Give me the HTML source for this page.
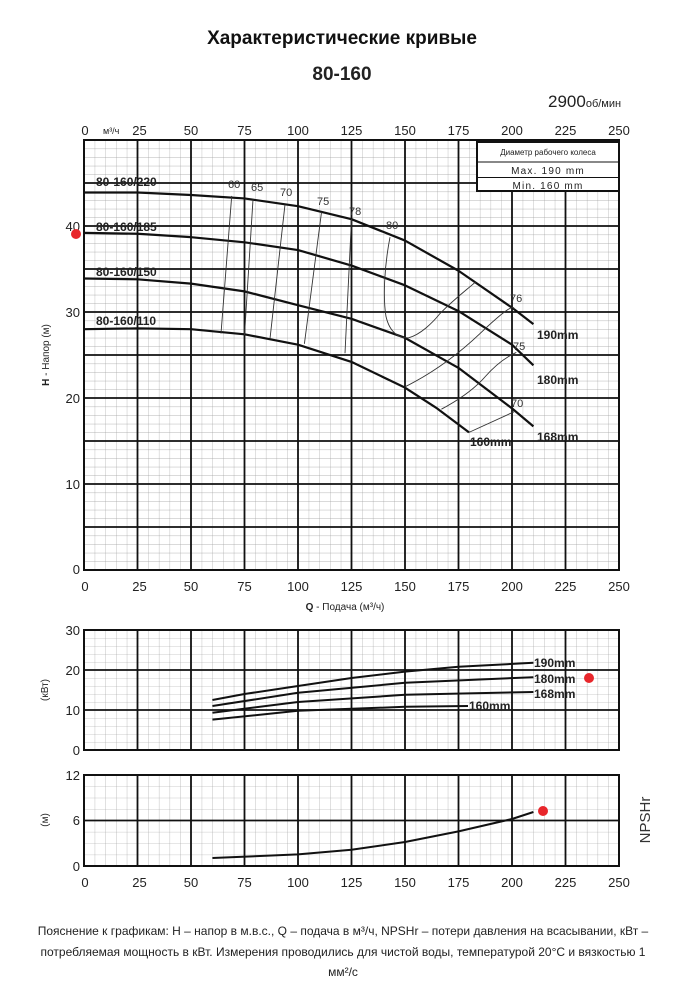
<!DOCTYPE html>
<html><head><meta charset="utf-8"><style>
html,body{margin:0;padding:0;background:#fff;}
svg{display:block;font-family:"Liberation Sans","DejaVu Sans",sans-serif;}
</style></head><body>
<svg width="685" height="1000" viewBox="0 0 685 1000" xmlns="http://www.w3.org/2000/svg">
<defs>
<pattern id="g1" x="84" y="140" width="10.7" height="8.6" patternUnits="userSpaceOnUse"><path d="M0 0V8.6M0 0H10.7" stroke="#999" stroke-width="0.6" fill="none"/></pattern>
<pattern id="g2" x="84" y="630" width="10.7" height="8" patternUnits="userSpaceOnUse"><path d="M0 0V8M0 0H10.7" stroke="#999" stroke-width="0.6" fill="none"/></pattern>
<pattern id="g3" x="84" y="775" width="10.7" height="11.375" patternUnits="userSpaceOnUse"><path d="M0 0V11.375M0 0H10.7" stroke="#999" stroke-width="0.6" fill="none"/></pattern>
</defs>
<text x="342" y="44" font-size="19" font-weight="bold" text-anchor="middle" fill="#111">Характеристические кривые</text>
<text x="342" y="80" font-size="19" font-weight="bold" text-anchor="middle" fill="#222">80-160</text>
<text x="548" y="107" font-size="17" fill="#222">2900<tspan font-size="11">об/мин</tspan></text>

<!-- top axis labels -->
<g font-size="13" fill="#222" text-anchor="middle">
<text x="85" y="135">0</text><text x="139.5" y="135">25</text><text x="191" y="135">50</text><text x="244.5" y="135">75</text><text x="298" y="135">100</text><text x="351.5" y="135">125</text><text x="405" y="135">150</text><text x="458.5" y="135">175</text><text x="512" y="135">200</text><text x="565.5" y="135">225</text><text x="619" y="135">250</text>
</g>
<text x="103" y="134" font-size="9" fill="#222">м³/ч</text>

<!-- top chart -->
<rect x="84" y="140" width="535" height="430" fill="url(#g1)"/>
<g stroke="#111" stroke-width="1.8" fill="none">
<path d="M137.5 140V570M191 140V570M244.5 140V570M298 140V570M351.5 140V570M405 140V570M458.5 140V570M512 140V570M565.5 140V570"/>
<path d="M84 183H619M84 226H619M84 269H619M84 312H619M84 355H619M84 398H619M84 441H619M84 484H619M84 527H619"/>
<rect x="84" y="140" width="535" height="430" stroke-width="2"/>
</g>
<g font-size="13" fill="#222" text-anchor="end">
<text x="80" y="574">0</text><text x="80" y="489">10</text><text x="80" y="403">20</text><text x="80" y="317">30</text><text x="80" y="231">40</text>
</g>
<text transform="translate(49,355) rotate(-90)" font-size="10" fill="#222" text-anchor="middle"><tspan font-weight="bold">H</tspan> - Напор (м)</text>
<circle cx="76" cy="234" r="5" fill="#e8262b"/>
<!-- legend box -->
<rect x="477" y="142" width="142" height="49" fill="#fff" stroke="#111" stroke-width="2"/>
<path d="M477 162H619M477 177.5H619" stroke="#111" stroke-width="1"/>
<text x="548" y="155" font-size="8" text-anchor="middle" fill="#222">Диаметр рабочего колеса</text>
<text x="548" y="174" font-size="10" text-anchor="middle" fill="#222" letter-spacing="1.2">Max. 190 mm</text>
<text x="548" y="189" font-size="10" text-anchor="middle" fill="#222" letter-spacing="1.2">Min. 160 mm</text>

<g transform="translate(0,570) scale(1,1.00585) translate(0,-570)">
<g stroke="#111" stroke-width="2.2" fill="none" stroke-linejoin="round">
<polyline points="84,194.7 137.5,194.7 191,197.2 244.5,200.6 298,208.3 351.5,221.2 405,242.5 458.5,272.5 512,309.2 533.4,325.5"/>
<polyline points="84,234.8 137.5,235.7 191,239.1 244.5,244.2 298,251.9 351.5,267.3 405,287 458.5,312.6 512,346 533.4,366.5"/>
<polyline points="84,280.2 137.5,281 191,285.3 244.5,293 298,306.7 351.5,320.3 405,339.2 458.5,369.1 512,409.3 533.4,427.2"/>
<polyline points="84,330.6 137.5,329.8 191,330.6 244.5,335.7 298,346 351.5,363.1 405,388.7 437,409.3 469,433.2"/>
</g>
<g stroke="#333" stroke-width="0.9" fill="none">
<path d="M231.7 198.1L221 334.9M253 201.5L244.5 336.6M285 206.6L270 340M321.5 214.3L304.4 345.1M351.5 221.2L345 354.5"/>
<path d="M390 239.1C384 270 383 300 386 318C390 335 400 340 409 339C420 336 432 325 440 315C455 300 466 292 475.6 283.6"/>
<path d="M405 387.9Q445 368 480 334.9T514 311"/>
<path d="M441.4 410.1Q470 395 485 378T516.3 353.7"/>
<path d="M469 433.2L514 412.7"/>
</g>
</g>
<g font-size="11" fill="#333">
<text x="228" y="188">60</text><text x="251" y="191">65</text><text x="280" y="196">70</text><text x="317" y="205">75</text><text x="349" y="215">78</text><text x="386" y="229">80</text>
<text x="510" y="302">76</text><text x="513" y="350">75</text><text x="511" y="407">70</text>
</g>
<g font-size="12" font-weight="bold" fill="#222">
<text x="96" y="186">80-160/220</text><text x="96" y="231">80-160/185</text><text x="96" y="276">80-160/150</text><text x="96" y="325">80-160/110</text>
<text x="537" y="339">190mm</text><text x="537" y="384">180mm</text><text x="537" y="441">168mm</text><text x="470" y="446">160mm</text>
</g>
<g font-size="13" fill="#222" text-anchor="middle">
<text x="85" y="591">0</text><text x="139.5" y="591">25</text><text x="191" y="591">50</text><text x="244.5" y="591">75</text><text x="298" y="591">100</text><text x="351.5" y="591">125</text><text x="405" y="591">150</text><text x="458.5" y="591">175</text><text x="512" y="591">200</text><text x="565.5" y="591">225</text><text x="619" y="591">250</text>
</g>
<text x="345" y="610" font-size="10" fill="#222" text-anchor="middle"><tspan font-weight="bold">Q</tspan> - Подача (м³/ч)</text>

<!-- power chart -->
<rect x="84" y="630" width="535" height="120" fill="url(#g2)"/>
<g stroke="#111" stroke-width="1.8" fill="none">
<path d="M137.5 630V750M191 630V750M244.5 630V750M298 630V750M351.5 630V750M405 630V750M458.5 630V750M512 630V750M565.5 630V750"/>
<path d="M84 670H619M84 710H619"/>
<rect x="84" y="630" width="535" height="120" stroke-width="2"/>
</g>
<g font-size="13" fill="#222" text-anchor="end">
<text x="80" y="635">30</text><text x="80" y="675">20</text><text x="80" y="715">10</text><text x="80" y="755">0</text>
</g>
<text transform="translate(48,690) rotate(-90)" font-size="10" fill="#222" text-anchor="middle">(кВт)</text>
<g stroke="#111" stroke-width="2" fill="none" stroke-linejoin="round">
<polyline points="212.4,700 244.5,694 298,686 351.5,678 405,671.6 458.5,666.8 533.4,662.8"/>
<polyline points="212.4,706 298,692.8 405,682.8 533.4,677.2"/>
<polyline points="212.4,712.8 298,702 405,694.8 533.4,692"/>
<polyline points="212.4,719.6 298,710.8 405,706.8 468,706"/>
</g>
<g font-size="12" font-weight="bold" fill="#222">
<text x="534" y="667">190mm</text><text x="534" y="683">180mm</text><text x="534" y="698">168mm</text><text x="469" y="710">160mm</text>
</g>
<circle cx="589" cy="678" r="5" fill="#e8262b"/>

<!-- NPSH chart -->
<rect x="84" y="775" width="535" height="91" fill="url(#g3)"/>
<g stroke="#111" stroke-width="1.8" fill="none">
<path d="M137.5 775V866M191 775V866M244.5 775V866M298 775V866M351.5 775V866M405 775V866M458.5 775V866M512 775V866M565.5 775V866"/>
<path d="M84 820.5H619"/>
<rect x="84" y="775" width="535" height="91" stroke-width="2"/>
</g>
<g font-size="13" fill="#222" text-anchor="end">
<text x="80" y="780">12</text><text x="80" y="825">6</text><text x="80" y="871">0</text>
</g>
<text transform="translate(48,820) rotate(-90)" font-size="10" fill="#222" text-anchor="middle">(м)</text>
<polyline points="212.4,858 298,854.4 351.5,849.8 405,842 458.5,831.4 512,819 533.4,812" stroke="#111" stroke-width="2" fill="none"/>
<circle cx="543" cy="811" r="5" fill="#e8262b"/>
<text transform="translate(650,820) rotate(-90)" font-size="15" fill="#333" text-anchor="middle">NPSHr</text>
<g font-size="13" fill="#222" text-anchor="middle">
<text x="85" y="887">0</text><text x="139.5" y="887">25</text><text x="191" y="887">50</text><text x="244.5" y="887">75</text><text x="298" y="887">100</text><text x="351.5" y="887">125</text><text x="405" y="887">150</text><text x="458.5" y="887">175</text><text x="512" y="887">200</text><text x="565.5" y="887">225</text><text x="619" y="887">250</text>
</g>

<g font-size="12" fill="#222" text-anchor="middle">
<text x="343" y="935">Пояснение к графикам: H – напор в м.в.с., Q – подача в м³/ч, NPSHr – потери давления на всасывании, кВт –</text>
<text x="343" y="956">потребляемая мощность в кВт. Измерения проводились для чистой воды, температурой 20°C и вязкостью 1</text>
<text x="343" y="976">мм²/с</text>
</g>
</svg>
</body></html>
